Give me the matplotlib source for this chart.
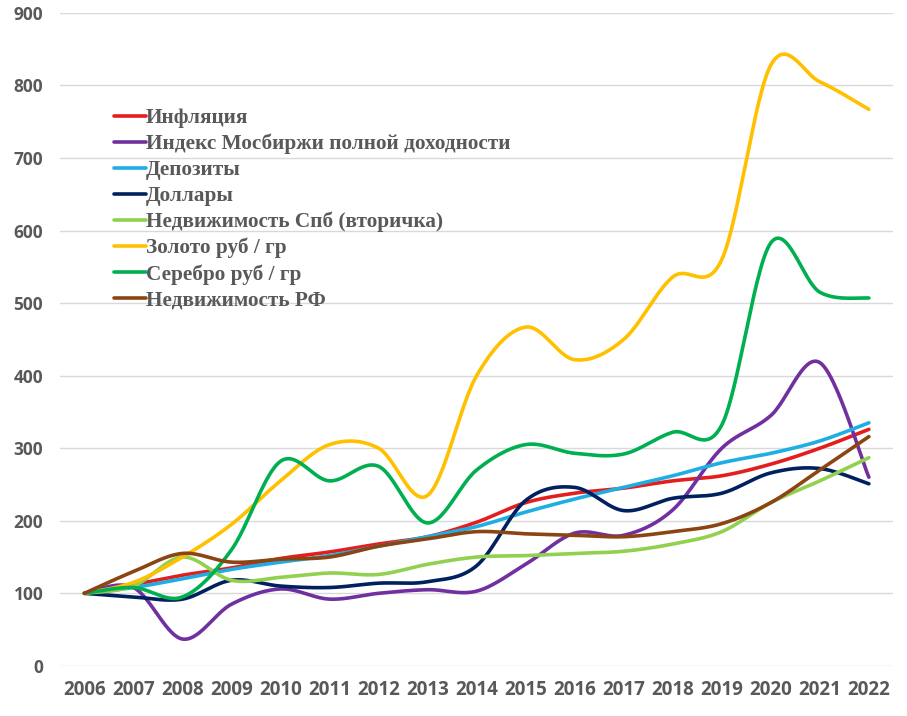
import numpy as np
import matplotlib
matplotlib.use("Agg")
import matplotlib.pyplot as plt

years = list(range(2006, 2023))

inflation = [100, 112, 125, 135, 148, 157, 168, 178, 198, 225, 238, 245, 255, 262, 278, 300, 326]
moex = [100, 108, 37, 85, 106, 92, 100, 105, 103, 140, 183, 180, 215, 300, 345, 418, 260]
deposits = [100, 108, 120, 133, 143, 152, 165, 178, 192, 212, 230, 246, 262, 280, 293, 310, 335]
dollars = [100, 95, 92, 118, 110, 108, 114, 116, 138, 228, 246, 214, 231, 238, 266, 272, 251]
spb_flats = [100, 110, 150, 118, 122, 128, 126, 140, 150, 152, 155, 158, 168, 185, 225, 255, 287]
gold = [100, 115, 150, 195, 255, 305, 300, 235, 400, 467, 422, 450, 536, 560, 828, 805, 767]
silver = [100, 108, 95, 160, 282, 255, 275, 197, 270, 305, 293, 292, 322, 332, 583, 515, 507]
rf_flats = [100, 130, 155, 143, 147, 150, 165, 175, 185, 182, 180, 178, 185, 196, 225, 270, 316]

labels = ["Инфляция", "Индекс Мосбиржи полной доходности", "Депозиты", "Доллары",
          "Недвижимость Спб (вторичка)", "Золото руб / гр", "Серебро руб / гр",
          "Недвижимость РФ"]
series = [inflation, moex, deposits, dollars, spb_flats, gold, silver, rf_flats]
colors = ["#E41E1E", "#7030A0", "#1FAEE3", "#002060", "#92D050", "#FFC000", "#00B050", "#8B4513"]


def smooth(x, y, n=30):
    # Excel-style smoothing: Catmull-Rom Bezier between points
    x = np.asarray(x, float)
    y = np.asarray(y, float)
    px = np.concatenate([[x[0]], x, [x[-1]]])
    py = np.concatenate([[y[0]], y, [y[-1]]])
    t = np.linspace(0, 1, n)
    xs, ys = [], []
    for i in range(1, len(px) - 2):
        p0 = np.array([px[i], py[i]])
        p3 = np.array([px[i + 1], py[i + 1]])
        c1 = p0 + (p3 - np.array([px[i - 1], py[i - 1]])) / 6
        c2 = p3 - (np.array([px[i + 2], py[i + 2]]) - p0) / 6
        b = ((1 - t) ** 3)[:, None] * p0 + (3 * (1 - t) ** 2 * t)[:, None] * c1 \
            + (3 * (1 - t) * t ** 2)[:, None] * c2 + (t ** 3)[:, None] * p3
        xs.append(b[:, 0])
        ys.append(b[:, 1])
    return np.concatenate(xs), np.concatenate(ys)


fig = plt.figure(figsize=(9.07, 7.16), dpi=100)
ax = fig.add_axes([0.066, 0.07, 0.919, 0.912])

for vals, lab, col in zip(series, labels, colors):
    sx, sy = smooth(years, vals)
    ax.plot(sx, sy, color=col, lw=2.6, label=lab, solid_capstyle="round")

ax.set_xlim(2005.5, 2022.5)
ax.set_ylim(0, 900)
ax.set_yticks(range(0, 901, 100))
ax.set_xticks(years)
ax.grid(axis="y", color="#D9D9D9", lw=1)
ax.set_axisbelow(True)
for s in ax.spines.values():
    s.set_visible(False)
ax.tick_params(length=0, labelcolor="#595959")
ax.tick_params(axis="x", pad=10, labelsize=13.5)
ax.tick_params(axis="y", pad=12, labelsize=12.5)
for lb in ax.get_xticklabels() + ax.get_yticklabels():
    lb.set_fontweight("bold")
    lb.set_family("Open Sans")

leg = ax.legend(loc="upper left", bbox_to_anchor=(0.055, 0.867), frameon=False,
                handlelength=1.5, handletextpad=0.0, labelspacing=0.27,
                borderaxespad=0,
                prop={"family": "Liberation Serif", "weight": "bold", "size": 15.3})
for t in leg.get_texts():
    t.set_color("#595959")

fig.savefig("out.png", dpi=100)
